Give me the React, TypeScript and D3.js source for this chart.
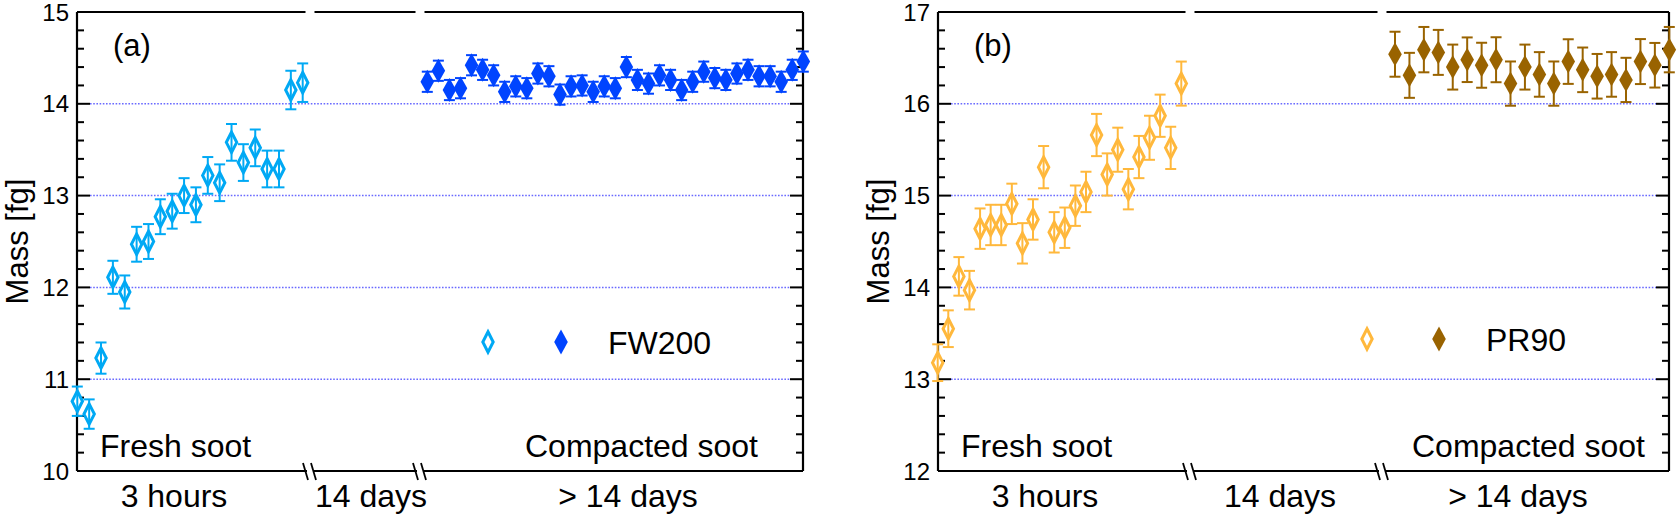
import * as d3 from "d3";

// panel (a) FW200
const freshA = [10.76, 10.62, 11.23, 12.11, 11.95, 12.47, 12.5, 12.77, 12.83, 13.0, 12.9, 13.22, 13.14, 13.58, 13.36, 13.52, 13.29, 13.29, 14.15, 14.23];
const freshAErr = [0.16, 0.16, 0.17, 0.18, 0.18, 0.19, 0.19, 0.19, 0.19, 0.19, 0.19, 0.2, 0.2, 0.2, 0.2, 0.2, 0.2, 0.2, 0.21, 0.21];
const compactA = [14.24, 14.36, 14.15, 14.17, 14.42, 14.37, 14.31, 14.13, 14.19, 14.17, 14.33, 14.3, 14.1, 14.19, 14.2, 14.13, 14.19, 14.17,
  14.4, 14.26, 14.22, 14.31, 14.26, 14.15, 14.24, 14.35, 14.28, 14.26, 14.33, 14.37, 14.3, 14.3, 14.24, 14.37, 14.46];
const compactAErr = compactA.map(() => 0.11);

// panel (b) PR90
const freshB = [13.18, 13.55, 14.12, 13.97, 14.64, 14.68, 14.68, 14.91, 14.48, 14.74, 15.31, 14.6, 14.65, 14.89, 15.04, 15.66, 15.23, 15.5, 15.07, 15.42, 15.63, 15.87, 15.52, 16.22];
const freshBErr = [0.2, 0.2, 0.21, 0.21, 0.22, 0.22, 0.22, 0.22, 0.22, 0.22, 0.23, 0.22, 0.22, 0.22, 0.22, 0.23, 0.23, 0.24, 0.22, 0.23, 0.24, 0.23, 0.23, 0.24];
const compactB = [16.54, 16.31, 16.59, 16.56, 16.4, 16.48, 16.42, 16.48, 16.22, 16.4, 16.32, 16.22, 16.46, 16.37, 16.3, 16.32, 16.26, 16.46, 16.42, 16.59];
const compactBErr = [0.245, 0.245, 0.247, 0.245, 0.245, 0.243, 0.245, 0.245, 0.241, 0.245, 0.243, 0.241, 0.243, 0.243, 0.243, 0.243, 0.241, 0.245, 0.243, 0.247];

const segmentLabels = ["3 hours", "14 days", "> 14 days"];

const W = 1677;
const H = 521;
const TOP = 12;
const BOTTOM = 471;
const FONT = "'Liberation Sans', Arial, Helvetica, sans-serif";

type PanelCfg = {
  x0: number; x1: number;
  breaks: [number, number];
  freshRange: [number, number];
  compactRange: [number, number];
  yDomain: [number, number];
  fresh: number[]; freshErr: number[];
  compact: number[]; compactErr: number[];
  freshColor: string; compactColor: string;
  tag: string; name: string;
  legend: { x1: number; x2: number; xt: number; y: number };
  segLabelX: [number, number, number];
  compactedEnd: number;
};

const diamond = (w: number, h: number) => `M0,${-h}L${w},0L0,${h}L${-w},0Z`;

function Panel({ c }: { c: PanelCfg }) {
  const y = d3.scaleLinear().domain(c.yDomain).range([BOTTOM, TOP]);
  const xf = d3.scaleLinear().domain([0, c.fresh.length - 1]).range(c.freshRange);
  const xc = d3.scaleLinear().domain([0, c.compact.length - 1]).range(c.compactRange);
  const major = y.ticks(5);
  const minor = y.ticks(25).filter((t) => !major.some((m) => Math.abs(m - t) < 1e-6));
  const grid = major.filter((t) => t > c.yDomain[0] && t < c.yDomain[1]);
  const [b1, b2] = c.breaks;
  const topSegs = [[c.x0, b1 - 4.5], [b1 + 4.5, b2 - 4.5], [b2 + 4.5, c.x1]];
  const botSegs = [[c.x0, b1 - 3], [b1 + 3, b2 - 3], [b2 + 3, c.x1]];

  const errBar = (cx: number, v: number, e: number, color: string, key: string) => (
    <g key={key} stroke={color} strokeWidth={2} fill="none">
      <line x1={cx} x2={cx} y1={y(v + e)} y2={y(v - e)} />
      <line x1={cx - 5.5} x2={cx + 5.5} y1={y(v + e)} y2={y(v + e)} />
      <line x1={cx - 5.5} x2={cx + 5.5} y1={y(v - e)} y2={y(v - e)} />
    </g>
  );

  return (
    <g>
      {/* grid */}
      {grid.map((t) => (
        <line key={"g" + t} x1={c.x0 + 13} x2={c.x1 - 13} y1={y(t)} y2={y(t)} stroke="#6a6aff" strokeWidth={1.5} strokeDasharray="1.6,1.6" />
      ))}
      {/* ticks */}
      {major.map((t) => (
        <g key={"M" + t} stroke="#000" strokeWidth={2}>
          <line x1={c.x0} x2={c.x0 + 13} y1={y(t)} y2={y(t)} />
          <line x1={c.x1} x2={c.x1 - 13} y1={y(t)} y2={y(t)} />
        </g>
      ))}
      {minor.map((t) => (
        <g key={"m" + t} stroke="#000" strokeWidth={2}>
          <line x1={c.x0} x2={c.x0 + 7} y1={y(t)} y2={y(t)} />
          <line x1={c.x1} x2={c.x1 - 7} y1={y(t)} y2={y(t)} />
        </g>
      ))}
      {major.map((t) => (
        <text key={"l" + t} x={c.x0 - 8} y={y(t) + 8.5} textAnchor="end" fontSize={24} fontFamily={FONT}>{t}</text>
      ))}
      {/* frame */}
      <g stroke="#000" strokeWidth={2.2} fill="none">
        <line x1={c.x0} x2={c.x0} y1={TOP} y2={BOTTOM} />
        <line x1={c.x1} x2={c.x1} y1={TOP} y2={BOTTOM} />
        {topSegs.map(([a, b], i) => <line key={"t" + i} x1={a} x2={b} y1={TOP} y2={TOP} />)}
        {botSegs.map(([a, b], i) => <line key={"b" + i} x1={a} x2={b} y1={BOTTOM} y2={BOTTOM} />)}
        {c.breaks.map((bx) => (
          <g key={"s" + bx} strokeWidth={1.8}>
            <line x1={bx - 7} x2={bx - 2} y1={BOTTOM - 8} y2={BOTTOM + 9} />
            <line x1={bx + 1} x2={bx + 6} y1={BOTTOM - 8} y2={BOTTOM + 9} />
          </g>
        ))}
      </g>
      {/* fresh */}
      {c.fresh.map((v, i) => (
        <g key={"f" + i}>
          <path d={diamond(5.2, 10.2)} transform={`translate(${xf(i)},${y(v)})`} fill="#fff" stroke={c.freshColor} strokeWidth={3} />
          {errBar(xf(i), v, c.freshErr[i], c.freshColor, "fe" + i)}
        </g>
      ))}
      {/* compacted */}
      {c.compact.map((v, i) => errBar(xc(i), v, c.compactErr[i], c.compactColor, "ce" + i))}
      {c.compact.map((v, i) => (
        <path key={"c" + i} d={diamond(6.8, 12)} transform={`translate(${xc(i)},${y(v)})`} fill={c.compactColor} />
      ))}
      {/* legend */}
      <path d={diamond(5.2, 10.2)} transform={`translate(${c.legend.x1},${c.legend.y})`} fill="#fff" stroke={c.freshColor} strokeWidth={3} />
      <path d={diamond(6.8, 12.5)} transform={`translate(${c.legend.x2},${c.legend.y})`} fill={c.compactColor} />
      <text x={c.legend.xt} y={c.legend.y + 11.5} fontSize={32} fontFamily={FONT}>{c.name}</text>
      {/* annotations */}
      <text x={c.x0 + 36} y={56} fontSize={31} fontFamily={FONT}>{c.tag}</text>
      <text x={c.x0 + 23} y={457} fontSize={32} fontFamily={FONT}>Fresh soot</text>
      <text x={c.compactedEnd} y={457} textAnchor="end" fontSize={32} fontFamily={FONT}>Compacted soot</text>
      {segmentLabels.map((s, i) => (
        <text key={s} x={c.segLabelX[i]} y={507} textAnchor="middle" fontSize={32} fontFamily={FONT}>{s}</text>
      ))}
      <text transform={`translate(${c.x0 - 49},${(TOP + BOTTOM) / 2}) rotate(-90)`} textAnchor="middle" fontSize={31} fontFamily={FONT}>Mass [fg]</text>
    </g>
  );
}

const panelA: PanelCfg = {
  x0: 77, x1: 803, breaks: [310, 420],
  freshRange: [77.3, 302.7], compactRange: [427.3, 803.3],
  yDomain: [10, 15],
  fresh: freshA, freshErr: freshAErr, compact: compactA, compactErr: compactAErr,
  freshColor: "#00a9f4", compactColor: "#0044ff",
  tag: "(a)", name: "FW200",
  legend: { x1: 488, x2: 561, xt: 608, y: 342 },
  segLabelX: [174, 371, 628],
  compactedEnd: 758,
};

const panelB: PanelCfg = {
  x0: 938, x1: 1669, breaks: [1190, 1382],
  freshRange: [937.7, 1181.3], compactRange: [1395, 1669.3],
  yDomain: [12, 17],
  fresh: freshB, freshErr: freshBErr, compact: compactB, compactErr: compactBErr,
  freshColor: "#ffb83c", compactColor: "#996300",
  tag: "(b)", name: "PR90",
  legend: { x1: 1367, x2: 1439, xt: 1486, y: 339 },
  segLabelX: [1045, 1280, 1518],
  compactedEnd: 1645,
};

export default function App() {
  return (
    <div style={{ position: "fixed", left: 0, top: 0, width: W, height: H, background: "#fff" }}>
      <svg width={W} height={H} viewBox={`0 0 ${W} ${H}`}>
        <rect width={W} height={H} fill="#fff" />
        <Panel c={panelA} />
        <Panel c={panelB} />
      </svg>
    </div>
  );
}
